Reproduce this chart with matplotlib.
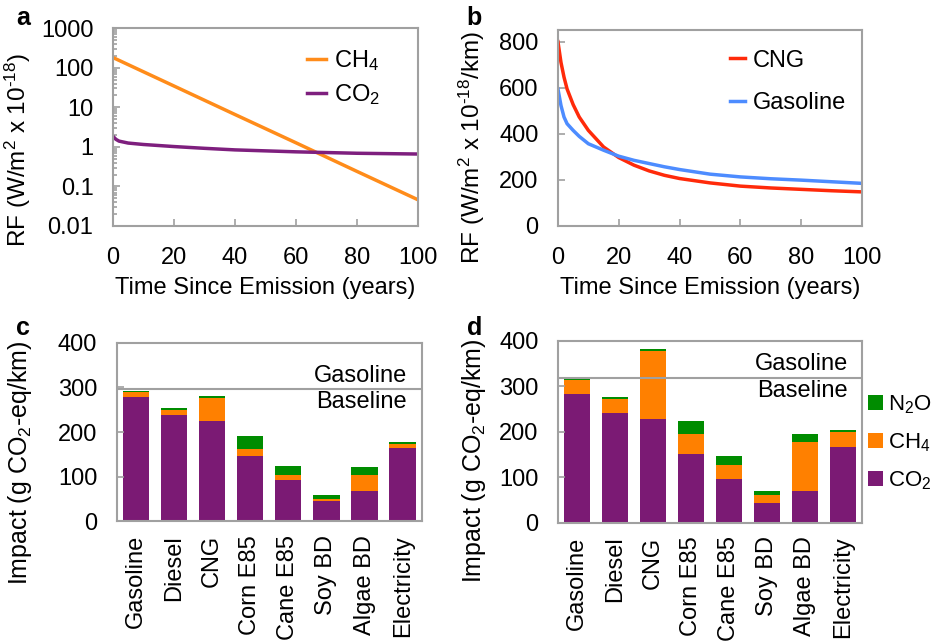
import numpy as np
import matplotlib
matplotlib.use("Agg")
import matplotlib.pyplot as plt

plt.rcParams['font.family'] = ['Liberation Sans', 'DejaVu Sans']
plt.rcParams['mathtext.fontset'] = 'custom'
plt.rcParams['mathtext.rm'] = 'Liberation Sans'
plt.rcParams['mathtext.it'] = 'Liberation Sans:italic'
plt.rcParams['font.size'] = 17

# panel a - radiative forcing of a pulse
years_ch4 = [0, 20, 40, 60, 80, 100]
rf_ch4 = [182, 34.7, 6.6, 1.27, 0.24, 0.046]
years_co2 = [0, 1, 2, 5, 10, 20, 30, 40, 60, 80, 100]
rf_co2 = [1.86, 1.55, 1.40, 1.25, 1.15, 1.02, 0.92, 0.84, 0.75, 0.69, 0.66]

# panel b - per km forcing
years_b = [0, 1, 2, 3, 5, 7, 10, 15, 20, 25, 30, 35, 40, 50, 60, 70, 80, 90, 100]
rf_cng = [800, 710, 646, 595, 527, 473, 415, 343, 297, 264, 239, 220, 206, 187, 173, 165, 159, 153, 148]
rf_gas = [595, 523, 473, 444, 415, 389, 357, 329, 303, 285, 271, 257, 245, 225, 213, 205, 199, 192, 185]

# panels c and d - stacked impacts
fuels = ['Gasoline', 'Diesel', 'CNG', 'Corn E85', 'Cane E85', 'Soy BD', 'Algae BD', 'Electricity']
c_co2 = [279, 239, 224, 147, 92, 45, 67, 165]
c_ch4 = [10, 11, 52, 15, 12, 4, 37, 8]
c_n2o = [4, 3, 4, 30, 21, 11, 18, 5]
c_baseline = 296

d_co2 = [282, 242, 228, 150, 96, 44, 70, 166]
d_ch4 = [33, 30, 150, 45, 30, 16, 107, 33]
d_n2o = [3, 4, 4, 29, 21, 10, 18, 4]
d_baseline = 318

PURPLE = '#7B1A74'
ORANGE = '#FF8000'
GREEN = '#008C00'
GRID = '#A0A0A0'
HY = '\u2010'  # hyphen used in the exponent

fig = plt.figure(figsize=(9.33, 6.42), dpi=100)


def style_axes(ax):
    for s in ax.spines.values():
        s.set_color(GRID)
        s.set_linewidth(1.5)
    ax.tick_params(which='both', direction='in', color=GRID, width=1.2)
    ax.tick_params(which='major', length=5)
    ax.tick_params(which='minor', length=3)
    ax.tick_params(axis='y', pad=14)
    ax.tick_params(axis='x', pad=15)


# ---- a ----
ax1 = fig.add_axes([0.121, 0.648, 0.327, 0.308])
ax1.semilogy(years_ch4, rf_ch4, color='#FF8C1A', lw=2.5, label='CH$_4$')
ax1.semilogy(years_co2, rf_co2, color='#7E1F7E', lw=2.5, label='CO$_2$')
ax1.set_xlim(0, 100)
ax1.set_ylim(0.01, 1000)
ax1.set_yticks([0.01, 0.1, 1, 10, 100, 1000])
ax1.set_yticklabels(['0.01', '0.1', '1', '10', '100', '1000'])
ax1.set_xticks([0, 20, 40, 60, 80, 100])
ax1.set_xlabel('Time Since Emission (years)', labelpad=6)
ax1.set_ylabel('RF (W/m$^2$ x 10$^{' + HY + '18}$)', fontsize=17.5)
ax1.yaxis.set_label_coords(-0.262, 0.384)
style_axes(ax1)
ax1.legend(loc='upper left', frameon=False, handlelength=0.8, handletextpad=0.35,
           labelspacing=0.4, borderpad=0, borderaxespad=0,
           bbox_to_anchor=(0.636, 0.9))
fig.text(0.017, 0.961, 'a', fontsize=18, fontweight='bold')

# ---- b ----
ax2 = fig.add_axes([0.598, 0.648, 0.326, 0.305])
ax2.plot(years_b, rf_cng, color='#FF2A0A', lw=2.5, label='CNG')
ax2.plot(years_b, rf_gas, color='#4D8CFF', lw=2.5, label='Gasoline')
ax2.set_xlim(0, 100)
ax2.set_ylim(0, 850)
ax2.set_yticks([0, 200, 400, 600, 800])
ax2.set_xticks([0, 20, 40, 60, 80, 100])
ax2.set_xlabel('Time Since Emission (years)', labelpad=6)
ax2.set_ylabel('RF (W/m$^2$ x 10$^{' + HY + '18}$/km)', fontsize=17.5)
ax2.yaxis.set_label_coords(-0.232, 0.398)
style_axes(ax2)
ax2.legend(loc='upper left', frameon=False, handlelength=0.6, handletextpad=0.35,
           labelspacing=0.85, borderpad=0, borderaxespad=0,
           bbox_to_anchor=(0.567, 0.9))
fig.text(0.5, 0.961, 'b', fontsize=18, fontweight='bold')


def bar_panel(rect, co2, ch4, n2o, baseline, label, lx, lab_xy, legend=False):
    ax = fig.add_axes(rect)
    x = np.arange(len(fuels))
    co2 = np.array(co2)
    ch4 = np.array(ch4)
    n2o = np.array(n2o)
    ax.bar(x, co2, 0.69, color=PURPLE, label='CO$_2$')
    ax.bar(x, ch4, 0.69, bottom=co2, color=ORANGE, label='CH$_4$')
    ax.bar(x, n2o, 0.69, bottom=co2 + ch4, color=GREEN, label='N$_2$O')
    ax.axhline(baseline, color=GRID, lw=1.5)
    ax.text(7.12, baseline + 6, 'Gasoline', ha='right', va='bottom')
    ax.text(7.12, baseline - 4, 'Baseline', ha='right', va='top')
    ax.set_xlim(-0.5, 7.5)
    ax.set_ylim(0, 400)
    ax.set_yticks([0, 100, 200, 300, 400])
    ax.set_xticks(x)
    ax.set_xticklabels(fuels, rotation=90)
    ax.set_ylabel('Impact (g CO$_2$-eq/km)', fontsize=18)
    ax.yaxis.set_label_coords(*lab_xy)
    style_axes(ax)
    ax.tick_params(axis='x', length=0, pad=10)
    fig.text(lx, 0.478, label, fontsize=18, fontweight='bold')
    if legend:
        h, l = ax.get_legend_handles_labels()
        ax.legend(h[::-1], l[::-1], loc='center left', bbox_to_anchor=(1.02, 0.44),
                  frameon=False, handlelength=0.65, handleheight=0.65,
                  handletextpad=0.25, labelspacing=0.7, borderpad=0,
                  borderaxespad=0, fontsize=16)
    return ax


bar_panel([0.125, 0.188, 0.327, 0.278], c_co2, c_ch4, c_n2o, c_baseline, 'c', 0.017, (-0.272, 0.33))
bar_panel([0.598, 0.186, 0.326, 0.283], d_co2, d_ch4, d_n2o, d_baseline, 'd', 0.5, (-0.23, 0.34), legend=True)

fig.savefig('out.png', dpi=100)
